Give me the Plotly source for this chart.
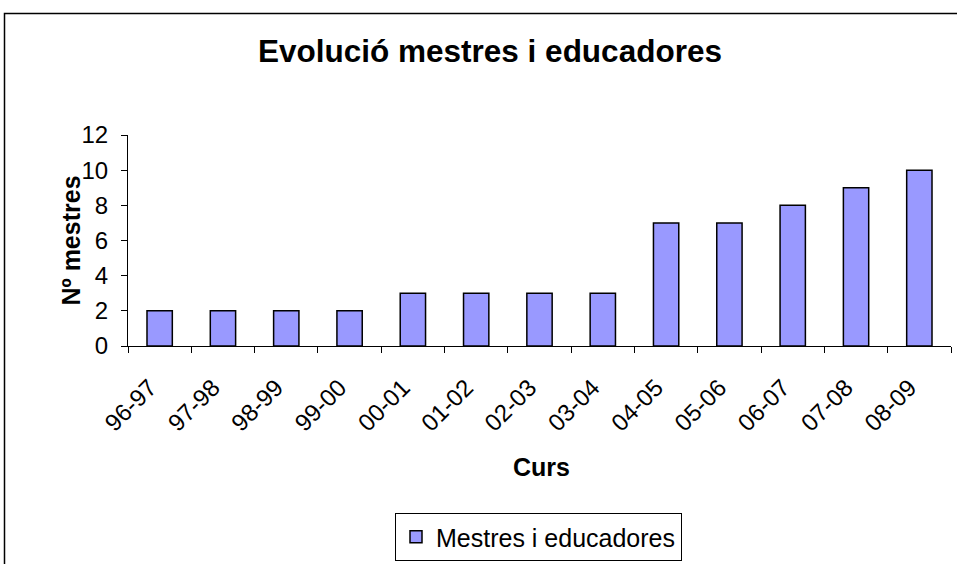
import plotly.graph_objects as go

# School years and number of teachers/educators per year
cursos = ["96-97", "97-98", "98-99", "99-00", "00-01", "01-02", "02-03",
          "03-04", "04-05", "05-06", "06-07", "07-08", "08-09"]
mestres = [2, 2, 2, 2, 3, 3, 3, 3, 7, 7, 8, 9, 10]
y_ticks = [0, 2, 4, 6, 8, 10, 12]

FONT = "Liberation Sans, Arial, sans-serif"
W, H = 957, 564
L, R, T, B = 128, 6, 135, 218
PW, PH = W - L - R, H - T - B


def px_x(x):
    return (x - L) / PW


def px_y(y):
    return (H - B - y) / PH


fig = go.Figure()
fig.add_trace(go.Bar(
    x=cursos, y=mestres, name="Mestres i educadores",
    width=0.4,
    marker=dict(color="#9999FF", line=dict(color="black", width=1.5)),
))

fig.update_layout(
    width=W, height=H,
    margin=dict(l=L, r=R, t=T, b=B, pad=0, autoexpand=False),
    paper_bgcolor="white", plot_bgcolor="white",
    font=dict(family=FONT, color="black"),
    showlegend=True,
    legend=dict(
        x=538.5 / W, xanchor="center", xref="container",
        y=1 - 513 / H, yanchor="top", yref="container",
        bordercolor="black", borderwidth=1,
        font=dict(size=25, family=FONT, color="black"),
        bgcolor="white", tracegroupgap=0,
    ),
    xaxis=dict(
        type="category", range=[-0.5, len(cursos) - 0.5],
        showline=True, linecolor="black", linewidth=1,
        ticks="outside", tickson="boundaries", ticklen=6,
        tickcolor="black", tickwidth=1,
        tickangle=-45, tickfont=dict(size=24, family=FONT),
        ticklabelstandoff=17, ticklabelshift=-10,
        showgrid=False, zeroline=False, fixedrange=True,
    ),
    yaxis=dict(
        range=[0, 12], tickvals=y_ticks,
        showline=True, linecolor="black", linewidth=1,
        ticks="outside", ticklen=6, tickcolor="black", tickwidth=1,
        tickfont=dict(size=24, family=FONT), ticklabelstandoff=8,
        showgrid=False, zeroline=False, fixedrange=True,
    ),
    annotations=[
        dict(text="<b>Evolució mestres i educadores</b>",
             xref="paper", yref="paper", x=px_x(490), y=px_y(51),
             xanchor="center", yanchor="middle", showarrow=False,
             font=dict(size=31.5, family=FONT)),
        dict(text="<b>Nº mestres</b>",
             xref="paper", yref="paper", x=px_x(70), y=0.5,
             xanchor="center", yanchor="middle", textangle=-90,
             showarrow=False, font=dict(size=25, family=FONT)),
        dict(text="<b>Curs</b>",
             xref="paper", yref="paper", x=px_x(541), y=px_y(467),
             xanchor="center", yanchor="middle", showarrow=False,
             font=dict(size=25, family=FONT)),
    ],
    shapes=[
        dict(type="rect", xref="paper", yref="paper",
             x0=px_x(4.5), x1=px_x(990), y0=px_y(600), y1=px_y(13.5),
             line=dict(color="black", width=1.5), fillcolor="rgba(0,0,0,0)",
             layer="below"),
    ],
)

fig.write_html("out.html")
